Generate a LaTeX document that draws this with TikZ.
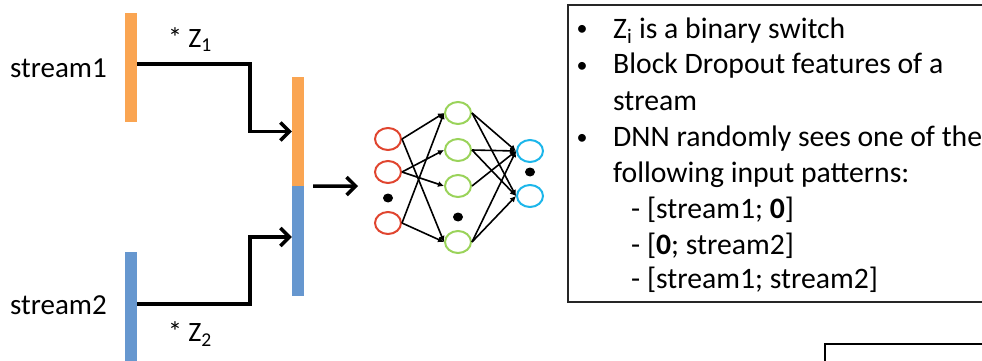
\documentclass[tikz,border=0pt]{standalone}
\usepackage{fontspec}
\setmainfont{Carlito}
\usetikzlibrary{arrows.meta,shapes.geometric,calc}
\definecolor{orangebar}{HTML}{FAA552}
\definecolor{bluebar}{HTML}{6697CF}
\definecolor{inred}{HTML}{E0452F}
\definecolor{hidgreen}{HTML}{9AD35A}
\definecolor{outcyan}{HTML}{1CB6EA}
\tikzset{
  bar/.style={rectangle, inner sep=0pt, minimum width=12pt},
  feed/.style={line width=3.5pt, -{Straight Barb[length=9pt,width=18pt,line width=3.5pt]}},
  unit/.style={ellipse, draw, line width=2pt, minimum width=26pt, minimum height=22pt, inner sep=0pt},
  wire/.style={line width=1.6pt, -{Latex[length=6pt,width=6pt]}},
  lbl/.style={font=\fontsize{29}{32}\selectfont, inner sep=0pt},
  txt/.style={font=\fontsize{29.7}{32}\selectfont, inner sep=0pt, anchor=base west},
  bul/.style={font=\fontsize{22}{24}\selectfont, inner sep=0pt, anchor=base},
  blob/.style={ellipse, fill=black, inner sep=0pt, minimum width=10pt, minimum height=9pt}
}
\begin{document}
\begin{tikzpicture}[x=1pt,y=-1pt]
\useasboundingbox (0,0) rectangle (982,361);
\clip (0,0) rectangle (982,361);

% input streams
\node[bar, fill=orangebar, minimum height=109pt] (s1) at (131,67.5) {};
\node[bar, fill=bluebar, minimum height=112pt] (s2) at (131,308) {};
\node[lbl] (l1) at (58.5,68) {stream1};
\node[lbl] (l2) at (58.5,305) {stream2};

% stacked feature vector
\node[bar, fill=orangebar, minimum height=109pt] (mo) at (298,131.5) {};
\node[bar, fill=bluebar, minimum height=110pt] (mb) at (298,241) {};

% switched connections
\coordinate (k1) at (250,64);
\coordinate (k2) at (250,304);
\coordinate (m2) at (298,237);
\draw[feed] (s1.east |- k1) -- (k1) |- (mo.west);
\draw[feed] (s2.east |- k2) -- (k2) |- (mb.west |- m2);
\node[lbl, font=\fontsize{28}{30}\selectfont] (z1) at (190,40) {* Z\textsubscript{1}};
\node[lbl, font=\fontsize{28}{30}\selectfont] (z2) at (190,334) {* Z\textsubscript{2}};

% feed into the network
\coordinate (netin) at (358,186);
\draw[feed] ([xshift=9pt]mo.south east) -- (netin);

% network units
\node[unit, draw=inred] (i1) at (388,139) {};
\node[unit, draw=inred] (i2) at (388,172) {};
\node[unit, draw=inred] (i3) at (388,223) {};
\node[blob] (di) at (388,198) {};
\node[unit, draw=hidgreen] (h1) at (458,113) {};
\node[unit, draw=hidgreen] (h2) at (458,150) {};
\node[unit, draw=hidgreen] (h3) at (458,186) {};
\node[unit, draw=hidgreen] (h4) at (458,242) {};
\node[blob] (dh) at (458,217) {};
\node[unit, draw=outcyan] (o1) at (530,151) {};
\node[unit, draw=outcyan] (o2) at (530,196) {};
\node[blob] (do) at (530,172) {};

% network weights
\draw[wire] (i1.east) -- (h1.west);
\draw[wire] (i1.east) -- (h4.west);
\draw[wire] (i2.east) -- (h2.west);
\draw[wire] (i2.east) -- (h3.west);
\draw[wire] (i3.east) -- (h1.west);
\draw[wire] (i3.east) -- (h4.west);
\draw[wire] (h1.east) -- (o1.west);
\draw[wire] (h1.east) -- (o2.west);
\draw[wire] (h2.east) -- (o1.west);
\draw[wire] (h2.east) -- (o2.west);
\draw[wire] (h3.east) -- (o1.west);
\draw[wire] (h4.east) -- (o1.west);
\draw[wire] (h4.east) -- (o2.west);

% notes panel
\draw[line width=1.6pt, draw=black!85] (568,5) rectangle (1000,302);
\node[bul] (b1) at (582,36) {•};
\node[txt] (t1) at (613,38) {Z\textsubscript{i} is a binary switch};
\node[bul] (b2) at (582,72) {•};
\node[txt] (t2) at (613,74) {Block Dropout features of a};
\node[txt] (t3) at (613,110) {stream};
\node[bul] (b4) at (582,144) {•};
\node[txt] (t4) at (613,146) {DNN randomly sees one of the};
\node[txt] (t5) at (613,182) {following input patterns:};
\node[txt] (t6) at (631,218) {- [stream1; \textbf{0}]};
\node[txt] (t7) at (631,254) {- [\textbf{0}; stream2]};
\node[txt] (t8) at (631,288) {- [stream1; stream2]};

% corner of a further panel
\draw[line width=2pt] (1000,344) -- (825,344) -- (825,380);
\end{tikzpicture}
\end{document}
